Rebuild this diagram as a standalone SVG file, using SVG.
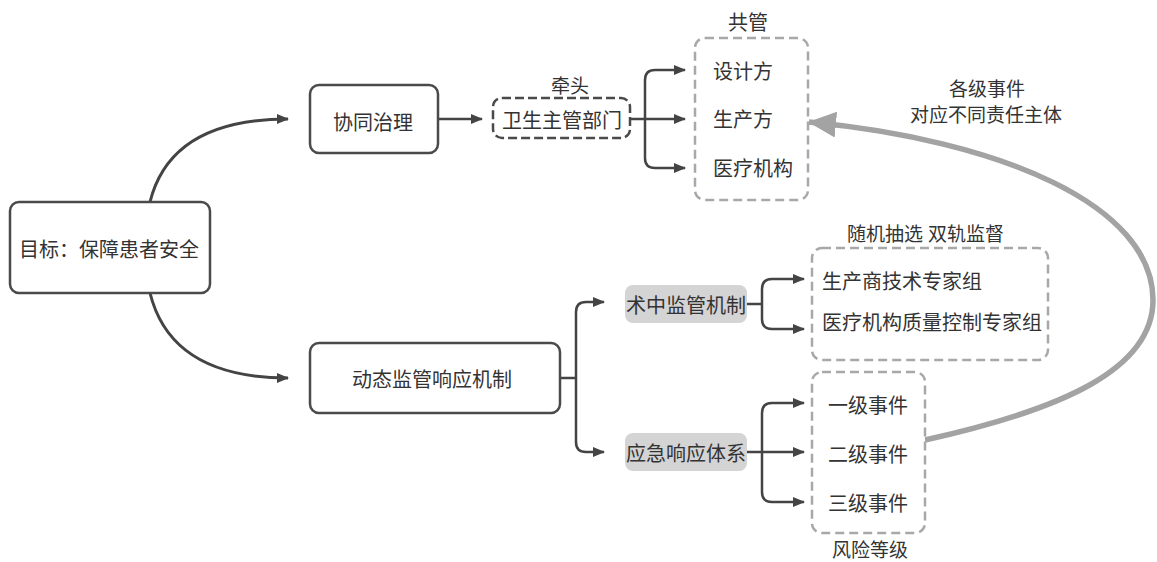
<svg xmlns="http://www.w3.org/2000/svg" width="1157" height="562" viewBox="0 0 1157 562">
<style>
text{font-family:"Noto Sans CJK SC","Noto Sans",sans-serif;font-size:20px;fill:#333;dominant-baseline:central}
.c{text-anchor:middle}
.box{fill:#fff;stroke:#4a4a4a;stroke-width:2.5}
.dk{fill:#fff;stroke:#4a4a4a;stroke-width:2.5;stroke-dasharray:9 4}
.lt{fill:#fff;stroke:#a8a8a8;stroke-width:2.5;stroke-dasharray:9 5}
.gf{fill:#d4d4d4;stroke:none}
.ln{fill:none;stroke:#444;stroke-width:2.5}
.arc{fill:none;stroke:#444;stroke-width:3}
.big{fill:none;stroke:#a3a3a3;stroke-width:5.5}
</style>
<defs>
<marker id="ah" markerWidth="12" markerHeight="10" refX="11" refY="5" orient="auto" markerUnits="userSpaceOnUse">
<path d="M0,0 L12,5 L0,10 Z" fill="#444"/>
</marker>
<marker id="gh" markerWidth="28" markerHeight="26" refX="27" refY="13" orient="auto" markerUnits="userSpaceOnUse">
<path d="M0,0 L28,13 L0,26 Z" fill="#a3a3a3"/>
</marker>
</defs>
<g id="connectors">
<path class="arc" d="M150,202 C163,150 205,119 288,119" marker-end="url(#ah)"/>
<path class="arc" d="M150,293 C163,345 205,378 288,378" marker-end="url(#ah)"/>
<path class="ln" d="M438,119 H482" marker-end="url(#ah)"/>
<path class="ln" d="M630,119 H685" marker-end="url(#ah)"/>
<path class="ln" d="M645,119 V80 Q645,70 655,70 H685" marker-end="url(#ah)"/>
<path class="ln" d="M645,119 V158 Q645,168 655,168 H685" marker-end="url(#ah)"/>
<path class="ln" d="M560,378 H576"/>
<path class="ln" d="M576,378 V312 Q576,302 586,302 H604" marker-end="url(#ah)"/>
<path class="ln" d="M576,378 V442 Q576,452 586,452 H604" marker-end="url(#ah)"/>
<path class="ln" d="M747,304 H762"/>
<path class="ln" d="M762,304 V289 Q762,279 772,279 H804" marker-end="url(#ah)"/>
<path class="ln" d="M762,304 V319 Q762,329 772,329 H804" marker-end="url(#ah)"/>
<path class="ln" d="M747,452 H804" marker-end="url(#ah)"/>
<path class="ln" d="M762,452 V413 Q762,403 772,403 H804" marker-end="url(#ah)"/>
<path class="ln" d="M762,452 V492 Q762,502 772,502 H804" marker-end="url(#ah)"/>
<path class="big" d="M925,440 C1060,410 1153,370 1153,300 C1153,205 1000,140 809,122" marker-end="url(#gh)"/>
</g>
<g id="goal">
<rect class="box" x="10" y="202" width="200" height="91" rx="9"/>
<text class="c" x="109" y="248">目标：保障患者安全</text>
</g>
<g id="xietong">
<rect class="box" x="310" y="85" width="128" height="68" rx="9"/>
<text class="c" x="373" y="121">协同治理</text>
</g>
<g id="weisheng">
<rect class="dk" x="493" y="98" width="137" height="40" rx="9"/>
<text class="c" x="562" y="119">卫生主管部门</text>
<text class="c" x="570" y="84" style="font-size:19px">牵头</text>
</g>
<g id="gongguan">
<rect class="lt" x="695" y="38" width="113" height="162" rx="10"/>
<text class="c" x="748" y="21">共管</text>
<text x="713" y="70">设计方</text>
<text x="713" y="118">生产方</text>
<text x="713" y="167">医疗机构</text>
</g>
<g id="dongtai">
<rect class="box" x="310" y="343" width="250" height="70" rx="9"/>
<text class="c" x="432" y="378">动态监管响应机制</text>
</g>
<g id="shuzhong">
<rect class="gf" x="625" y="285" width="122" height="38" rx="8"/>
<text class="c" x="686" y="304">术中监管机制</text>
</g>
<g id="yingji">
<rect class="gf" x="625" y="433" width="122" height="38" rx="8"/>
<text class="c" x="686" y="452">应急响应体系</text>
</g>
<g id="experts">
<rect class="lt" x="812" y="248" width="236" height="112" rx="10"/>
<text class="c" x="885" y="232" style="font-size:19px">随机抽选</text>
<text class="c" x="966" y="232" style="font-size:19px">双轨监督</text>
<text x="822" y="280">生产商技术专家组</text>
<text x="822" y="321">医疗机构质量控制专家组</text>
</g>
<g id="events">
<rect class="lt" x="812" y="372" width="113" height="161" rx="10"/>
<text class="c" x="868" y="404">一级事件</text>
<text class="c" x="868" y="453">二级事件</text>
<text class="c" x="868" y="502">三级事件</text>
<text class="c" x="870" y="548" style="font-size:19px">风险等级</text>
</g>
<g id="label-resp">
<text class="c" x="987" y="87" style="font-size:19px">各级事件</text>
<text class="c" x="986" y="113" style="font-size:19px">对应不同责任主体</text>
</g>
</svg>
